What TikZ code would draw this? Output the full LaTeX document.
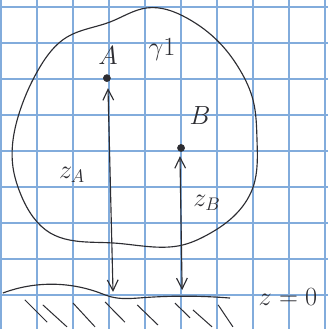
\documentclass[tikz,border=0pt]{standalone}
\usepackage{amsmath}
\usepackage{amssymb}
\usepackage{tikz}
\usetikzlibrary{hobby,arrows.meta}
\definecolor{gridblue}{RGB}{130,172,220}
\definecolor{pencil}{RGB}{45,45,50}

\begin{document}
\begin{tikzpicture}[>={Straight Barb[length=3mm,width=3mm]}]
\useasboundingbox (0,0) rectangle (9.11,9.14);
\begin{scope}
\clip (0,0) rectangle (9.11,9.14);
\draw[gridblue, line width=1.2pt, shift={(0.03,0.94)}] (-1,-1) grid (10,9);
\end{scope}
\draw[pencil, line width=.9pt, use Hobby shortcut, closed=true] (4.08,8.92) .. (5.19,8.64) .. (6.11,7.94) .. (6.67,7.19) .. (7.03,6.36) .. (7.14,5.25) .. (7.03,3.94) .. (6.47,3.11) .. (5.75,2.61) .. (5.06,2.33) .. (4.25,2.28) .. (3.14,2.39) .. (1.94,2.47) .. (1.39,2.67) .. (0.92,3.11) .. (0.56,3.78) .. (0.36,4.5) .. (0.56,6.08) .. (1.11,7.28) .. (1.86,8.11) .. (3.06,8.53);
\draw[pencil, line width=.9pt, use Hobby shortcut] (0.08,1.0) .. (2.78,1.0) .. (3.06,0.9) .. (3.97,0.87) .. (6.39,0.86);
\foreach \a/\b/\c/\d in {0.69/0.81/1.31/0.19, 1.19/0.67/1.86/0.06, 2.03/0.72/2.64/0.06, 2.92/0.75/3.47/0.19, 3.81/0.67/4.39/0.11, 4.86/0.72/5.28/0.31, 5.36/0.53/5.89/0.06, 6.06/0.67/6.47/0.06}{
\draw[pencil, line width=.8pt] (\a,\b) -- (\c,\d);
}
\node[circle, fill=pencil, draw=pencil, scale=.6] (a) at (2.97,6.97) {};
\node[circle, fill=pencil, draw=pencil, scale=.6] (b) at (5.03,5.03) {};
\node[pencil] (A) at (3.0,7.61) {\huge $A$};
\node[pencil] (B) at (5.56,5.94) {\huge $B$};
\node[pencil] (gam) at (4.5,7.75) {\huge $\gamma1$};
\node[pencil] (zA) at (2.0,4.28) {\huge $z_A$};
\node[pencil] (zB) at (5.75,3.5) {\huge $z_B$};
\node[pencil] (zero) at (8.0,0.88) {\huge $z=0$};
\coordinate (ga) at (3.14,1.03);
\coordinate (ta) at (3.0,6.69);
\coordinate (gb) at (5.06,1.08);
\coordinate (tb) at (5.0,4.8);
\draw[pencil, line width=.9pt, <->] (ga) -- (ta);
\draw[pencil, line width=.9pt, <->] (gb) -- (tb);
\end{tikzpicture}
\end{document}
